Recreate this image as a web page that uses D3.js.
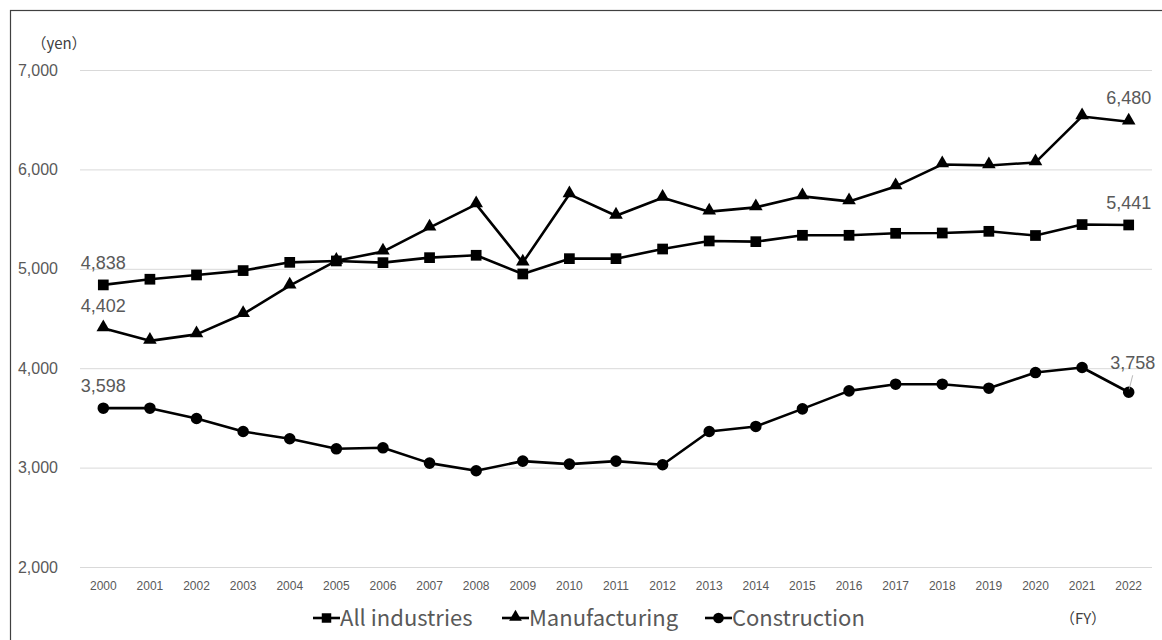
<!DOCTYPE html>
<html>
<head>
<meta charset="utf-8">
<script src="https://cdn.jsdelivr.net/npm/d3@7"></script>
<style>
  html, body { margin: 0; padding: 0; background: #fff; }
  svg { display: block; }
</style>
</head>
<body>
<svg id="chart" width="1162" height="640"></svg>
<script>
// ---- data ----
const years = ["2000","2001","2002","2003","2004","2005","2006","2007","2008","2009","2010","2011","2012","2013","2014","2015","2016","2017","2018","2019","2020","2021","2022"];
const allIndustries = [4838, 4895, 4938, 4982, 5065, 5079, 5062, 5112, 5136, 4948, 5102, 5102, 5199, 5280, 5273, 5337, 5337, 5357, 5360, 5377, 5335, 5445, 5441];
const manufacturing = [4402, 4275, 4340, 4545, 4830, 5080, 5173, 5414, 5648, 5062, 5749, 5534, 5715, 5575, 5618, 5729, 5678, 5829, 6050, 6040, 6070, 6533, 6480];
const construction  = [3598, 3598, 3494, 3363, 3290, 3189, 3199, 3045, 2968, 3065, 3035, 3065, 3029, 3363, 3414, 3591, 3772, 3839, 3839, 3799, 3956, 4007, 3758];
const seriesNames = ["All industries", "Manufacturing", "Construction"];
const yTicks = [2000, 3000, 4000, 5000, 6000, 7000];
const yUnit = "（yen）";
const xUnit = "（FY）";

const series = [
  { name: seriesNames[0], values: allIndustries, symbol: d3.symbolSquare },
  { name: seriesNames[1], values: manufacturing, symbol: d3.symbolTriangle },
  { name: seriesNames[2], values: construction, symbol: d3.symbolCircle }
];

const svg = d3.select("#chart");
const plot = { left: 80, right: 1152, top: 70, bottom: 567 };

// frame
svg.append("rect").attr("x", 10.5).attr("y", 10.5).attr("width", 1200).attr("height", 700)
  .attr("fill", "none").attr("stroke", "#404040").attr("stroke-width", 1.2);

const x = d3.scaleBand().domain(years).range([plot.left, plot.right]);
const cx = d => x(d) + x.bandwidth() / 2;
const y = d3.scaleLinear().domain([2000, 7000]).range([plot.bottom, plot.top]);

// y axis + gridlines
const yAxis = svg.append("g").attr("transform", `translate(${plot.left},0)`)
  .call(d3.axisLeft(y).tickValues(yTicks).tickFormat(d3.format(","))
    .tickSize(-(plot.right - plot.left)).tickPadding(22));
yAxis.select(".domain").remove();
yAxis.selectAll(".tick line").attr("stroke", "#d9d9d9").attr("stroke-width", 1);
yAxis.selectAll(".tick text").attr("fill", "#595959")
  .style("font-family", "'Liberation Sans', Arial, sans-serif").style("font-size", "16px");

// x axis
const xAxis = svg.append("g").attr("transform", `translate(0,${plot.bottom})`)
  .call(d3.axisBottom(x).tickSize(0).tickPadding(14));
xAxis.select(".domain").remove();
xAxis.selectAll(".tick text").attr("fill", "#595959")
  .style("font-family", "'Liberation Sans', Arial, sans-serif").style("font-size", "12px");

// lines + markers
const line = d3.line().x((d, i) => cx(years[i])).y(d => y(d));
series.forEach(s => {
  svg.append("path").datum(s.values).attr("d", line)
    .attr("fill", "none").attr("stroke", "#000").attr("stroke-width", 2.6)
    .attr("stroke-linejoin", "round");
  const sym = d3.symbol().type(s.symbol).size(s.symbol === d3.symbolTriangle ? 80 : (s.symbol === d3.symbolCircle ? 105 : 115));
  svg.append("g").selectAll("path").data(s.values).join("path")
    .attr("d", sym)
    .attr("transform", (d, i) => `translate(${cx(years[i])},${y(d) + (s.symbol === d3.symbolTriangle ? -1 : 0)})`)
    .attr("fill", "#000");
});

// data labels (first and last of each series)
const fmt = d3.format(",");
const labelFont = "'Liberation Sans', Arial, sans-serif";
series.forEach((s, si) => {
  [0, years.length - 1].forEach(i => {
    let lx = cx(years[i]), ly = y(s.values[i]) - 16;
    if (si === 2 && i === years.length - 1) { lx += 4; ly = y(s.values[i]) - 23; }
    if (si === 1 && i === years.length - 1) { ly = y(s.values[i]) - 18; }
    svg.append("text").attr("x", lx).attr("y", ly).attr("text-anchor", "middle")
      .attr("fill", "#595959").style("font-family", labelFont).style("font-size", "18px")
      .text(fmt(s.values[i]));
  });
});
// leader line for last construction label
{
  const i = years.length - 1;
  const px = cx(years[i]), py = y(construction[i]);
  svg.append("line").attr("x1", px + 4).attr("y1", py - 17).attr("x2", px + 0.5).attr("y2", py - 3)
    .attr("stroke", "#a6a6a6").attr("stroke-width", 0.8);
}

// unit labels
svg.append("text").attr("x", 59).attr("y", 49).attr("text-anchor", "middle")
  .attr("fill", "#404040").style("font-family", "'Noto Sans CJK JP', sans-serif").style("font-size", "15px")
  .text(yUnit);
svg.append("text").attr("x", 1083).attr("y", 624).attr("text-anchor", "middle")
  .attr("fill", "#404040").style("font-family", "'Noto Sans CJK JP', sans-serif").style("font-size", "15px")
  .text(xUnit);

// legend
const legendItems = [
  { x: 313, textX: 340 },
  { x: 502, textX: 529 },
  { x: 705, textX: 732 }
];
const ly0 = 618;
series.forEach((s, i) => {
  const g = svg.append("g");
  const L = legendItems[i];
  g.append("line").attr("x1", L.x).attr("x2", L.x + 27).attr("y1", ly0).attr("y2", ly0)
    .attr("stroke", "#000").attr("stroke-width", 2.6);
  const sym = d3.symbol().type(s.symbol).size(s.symbol === d3.symbolTriangle ? 70 : 90);
  g.append("path").attr("d", sym).attr("transform", `translate(${L.x + 13.5},${ly0 + (s.symbol === d3.symbolTriangle ? -1 : 0)})`).attr("fill", "#000");
  g.append("text").attr("x", L.textX).attr("y", ly0).attr("dy", "0.36em")
    .attr("fill", "#595959").style("font-family", "'Noto Sans CJK JP', sans-serif").style("font-size", "22px")
    .text(s.name);
});
</script>
</body>
</html>
